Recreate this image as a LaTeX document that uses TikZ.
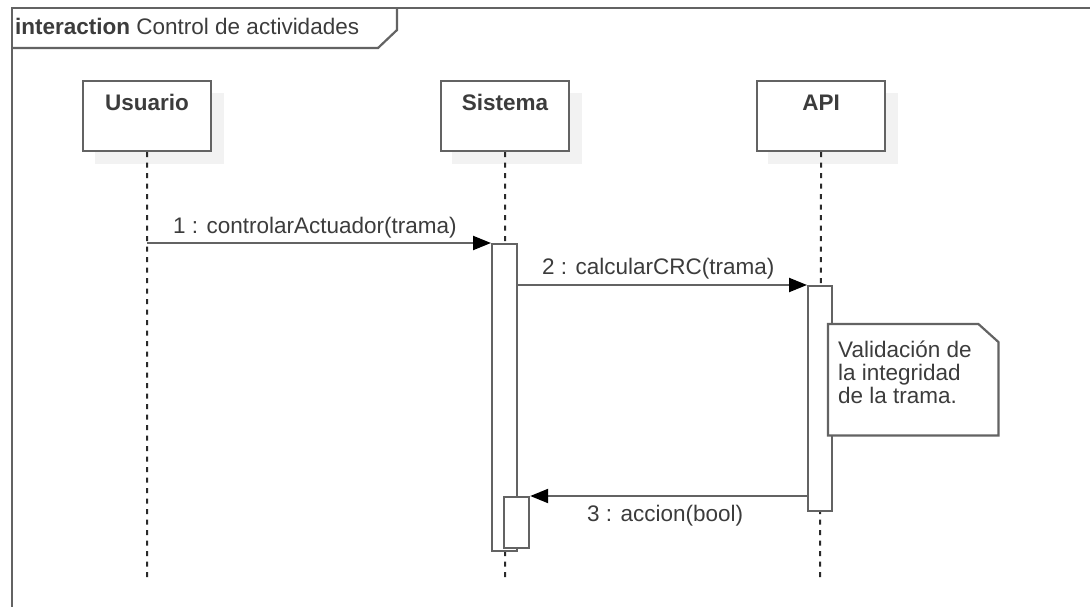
\documentclass[tikz,border=0pt]{standalone}
\usepackage{fontspec}
\setmainfont{Liberation Sans}
\usetikzlibrary{arrows.meta,calc}
\definecolor{linec}{HTML}{636363}
\definecolor{textc}{HTML}{3C3C3C}
\definecolor{shadowc}{HTML}{F2F2F2}
\definecolor{dashc}{HTML}{2A2A2A}
\begin{document}
\begin{tikzpicture}[x=1pt,y=-1pt,
  lbl/.style={font=\fontsize{22.5}{23}\selectfont, text=textc, inner sep=0pt, anchor=base west},
  headtxt/.style={font=\bfseries\fontsize{22.5}{23}\selectfont, text=textc, inner sep=0pt, anchor=base},
  headbox/.style={draw=linec, line width=2.2pt, fill=white, minimum width=128pt, minimum height=70pt, inner sep=0pt, anchor=north west},
  actbox/.style={draw=linec, line width=2.2pt, fill=white, minimum width=25pt, inner sep=0pt, anchor=north west},
  lifeline/.style={draw=dashc, line width=2pt, dash pattern=on 5pt off 5.5pt},
  msg/.style={draw=linec, line width=2.2pt, -{Triangle[length=18pt,width=14pt,fill=black,color=black]}},
  frameline/.style={draw=linec, line width=2.2pt}
]
\useasboundingbox (0,0) rectangle (1090,607);
\fill[white] (0,0) rectangle (1090,607);

% frame
\draw[frameline] (12,620) -- (12,8) -- (1100,8);
\draw[frameline] (12,48) -- (378,48) -- (397,30) -- (397,8);
\node[lbl] (ftitle) at (15,35) {\textbf{interaction} Control de actividades};

% shadows
\fill[shadowc] (95,93) rectangle (224,164);
\fill[shadowc] (452,93) rectangle (582,164);
\fill[shadowc] (768,93) rectangle (898,164);

% lifeline heads
\node[headbox] (u) at (82,80) {};
\node[headbox] (s) at (440,80) {};
\node[headbox] (a) at (756,80) {};
\node[headtxt] (ut) at ($(u.north)+(0,31)$) {Usuario};
\node[headtxt] (st) at ($(s.north)+(0,31)$) {Sistema};
\node[headtxt] (at) at ($(a.north)+(0,31)$) {API};

% lifelines
\coordinate (uend) at (147,577);
\coordinate (send) at (505,577);
\coordinate (aend) at (820,577);
\draw[lifeline] (u.south) -- (uend);
\draw[lifeline] (s.south) -- (send);
\draw[lifeline] (a.south) -- (aend);

% activations
\node[actbox, minimum height=307pt] (act1) at (491,243) {};
\node[actbox, minimum width=24pt, minimum height=225pt] (act2) at (807,285) {};
\node[actbox, minimum height=51pt] (act3) at (503,496) {};

% messages
\draw[msg] (u.south |- act1.north west) -- (act1.north west);
\node[lbl] (m1) at (173,233) {1 : controlarActuador(trama)};

\draw[msg] (act1.east |- act2.north west) -- (act2.north west);
\node[lbl] (m2) at (542,274) {2 : calcularCRC(trama)};

\draw[msg] (act2.west |- act3.north east) -- (act3.north east);
\node[lbl] (m3) at (587,521) {3 : accion(bool)};

% note
\node[inner sep=0pt, minimum width=170pt, minimum height=111pt, anchor=north west] (note) at (828,324) {};
\draw[frameline, fill=white] (note.north west) -- ($(note.north east)+(-20,0)$) -- ($(note.north east)+(0,18)$) -- (note.south east) -- (note.south west) -- cycle;
\node[lbl, align=left] (notetxt) at (838,403) {Validación de\\la integridad\\de la trama.};
\end{tikzpicture}
\end{document}
